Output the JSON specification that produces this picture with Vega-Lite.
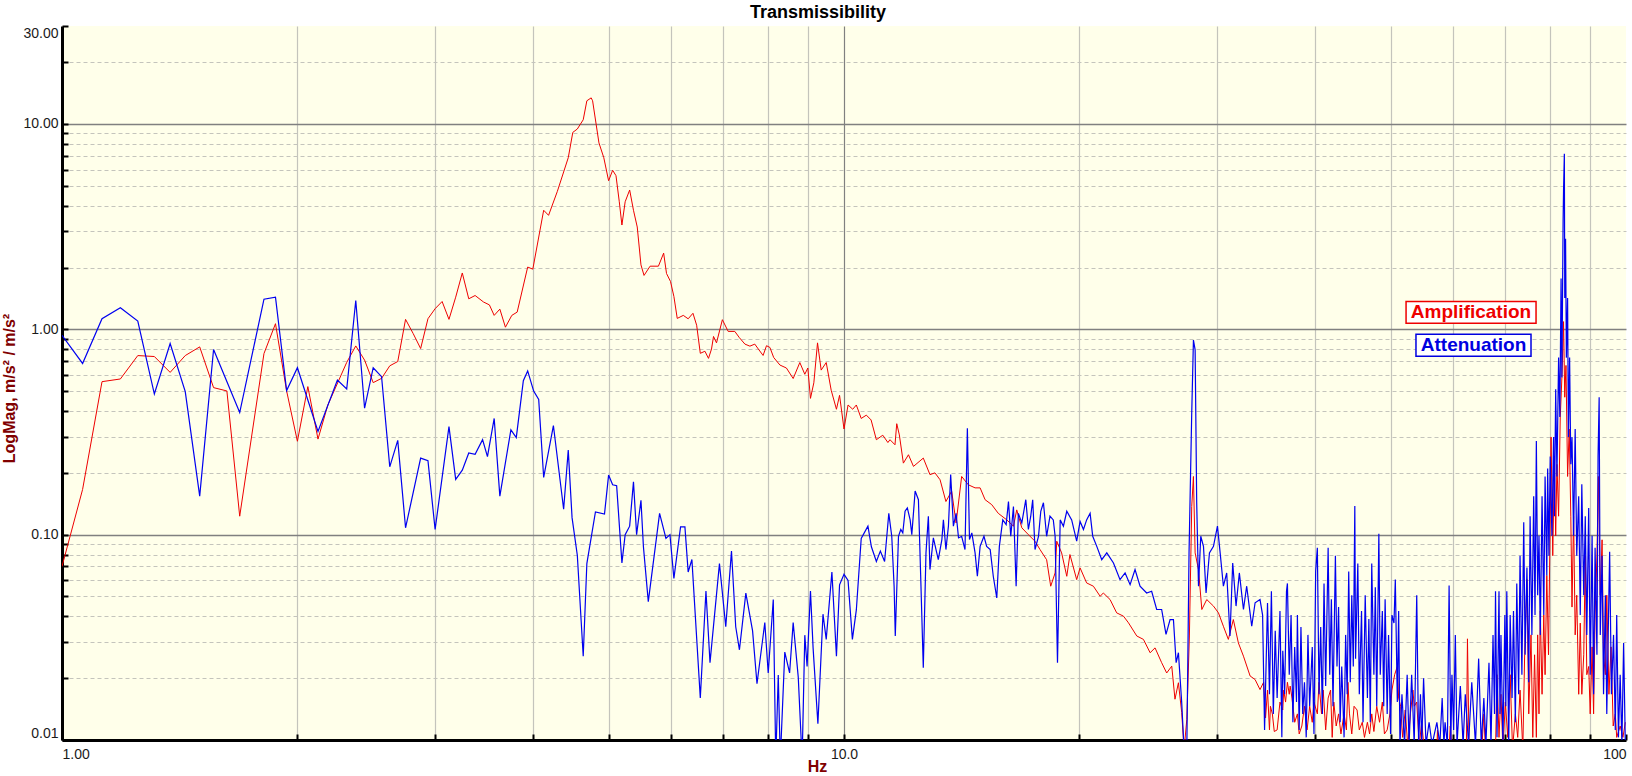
{
  "$schema": "https://vega.github.io/schema/vega-lite/v6.json",
  "width": 1564,
  "height": 714,
  "autosize": {"type": "none"},
  "padding": {"left": 62, "top": 26, "right": 6, "bottom": 36},
  "background": "white",
  "title": {
    "text": "Transmissibility",
    "frame": "group",
    "anchor": "middle",
    "dx": -26,
    "dy": 18,
    "offset": 7,
    "baseline": "alphabetic",
    "font": "Liberation Sans",
    "fontSize": 18,
    "fontWeight": "bold",
    "color": "black"
  },
  "datasets": {
    "amp": [
      {"hz":1.0,"mag":0.07},{"hz":1.0625,"mag":0.166},{"hz":1.125,"mag":0.556},{"hz":1.1875,"mag":0.573},{"hz":1.25,"mag":0.745},{"hz":1.3125,"mag":0.737},{"hz":1.375,"mag":0.617},{"hz":1.4375,"mag":0.745},{"hz":1.5,"mag":0.821},{"hz":1.5625,"mag":0.52},{"hz":1.625,"mag":0.501},{"hz":1.6875,"mag":0.123},{"hz":1.8125,"mag":0.762},{"hz":1.875,"mag":1.065},{"hz":1.9375,"mag":0.501},{"hz":2.0,"mag":0.285},{"hz":2.0625,"mag":0.526},{"hz":2.125,"mag":0.292},{"hz":2.1875,"mag":0.428},{"hz":2.3125,"mag":0.69},{"hz":2.375,"mag":0.83},{"hz":2.4375,"mag":0.708},{"hz":2.5,"mag":0.55},{"hz":2.5625,"mag":0.577},{"hz":2.625,"mag":0.664},{"hz":2.6875,"mag":0.697},{"hz":2.75,"mag":1.118},{"hz":2.8125,"mag":0.953},{"hz":2.875,"mag":0.806},{"hz":2.9375,"mag":1.126},{"hz":3.0,"mag":1.26},{"hz":3.0625,"mag":1.366},{"hz":3.125,"mag":1.118},{"hz":3.1875,"mag":1.434},{"hz":3.25,"mag":1.881},{"hz":3.3125,"mag":1.408},{"hz":3.375,"mag":1.461},
      {"hz":3.46,"mag":1.358},{"hz":3.52,"mag":1.315},{"hz":3.57,"mag":1.169},{"hz":3.63,"mag":1.254},{"hz":3.69,"mag":1.024},{"hz":3.76,"mag":1.169},{"hz":3.82,"mag":1.213},{"hz":3.94,"mag":2.01},{"hz":4.0,"mag":1.963},{"hz":4.13,"mag":3.8},{"hz":4.19,"mag":3.59},{"hz":4.3,"mag":4.7},{"hz":4.44,"mag":6.85},{"hz":4.5,"mag":9.1},{"hz":4.56,"mag":9.45},{"hz":4.64,"mag":10.48},{"hz":4.69,"mag":12.97},{"hz":4.75,"mag":13.4},{"hz":4.77,"mag":12.97},{"hz":4.86,"mag":8.09},{"hz":4.93,"mag":6.85},{"hz":5.0,"mag":5.29},{"hz":5.06,"mag":5.95},{"hz":5.11,"mag":5.6},{"hz":5.16,"mag":4.18},{"hz":5.2,"mag":3.22},{"hz":5.25,"mag":4.18},{"hz":5.32,"mag":4.77},{"hz":5.38,"mag":3.8},{"hz":5.44,"mag":3.15},{"hz":5.5,"mag":2.06},{"hz":5.55,"mag":1.83},{"hz":5.65,"mag":2.03},{"hz":5.79,"mag":2.03},{"hz":5.88,"mag":2.35},{"hz":5.93,"mag":1.87},{"hz":6.0,"mag":1.71},{"hz":6.06,"mag":1.445},{"hz":6.12,"mag":1.13},{"hz":6.23,"mag":1.169},{"hz":6.32,"mag":1.125},{"hz":6.41,"mag":1.197},{"hz":6.48,"mag":1.047},{"hz":6.55,"mag":0.764},{"hz":6.64,"mag":0.782},{"hz":6.71,"mag":0.722},{"hz":6.77,"mag":0.802},{"hz":6.81,"mag":0.923},{"hz":6.87,"mag":0.859},{"hz":6.99,"mag":1.114},{"hz":7.11,"mag":0.977},{"hz":7.25,"mag":0.977},{"hz":7.35,"mag":0.91},{"hz":7.47,"mag":0.847},{"hz":7.58,"mag":0.828},{"hz":7.69,"mag":0.847},{"hz":7.77,"mag":0.802},{"hz":7.88,"mag":0.746},{"hz":7.96,"mag":0.832},{"hz":8.04,"mag":0.816},{"hz":8.13,"mag":0.729},{"hz":8.28,"mag":0.67},{"hz":8.44,"mag":0.648},{"hz":8.61,"mag":0.576},{"hz":8.78,"mag":0.689},{"hz":8.91,"mag":0.604},{"hz":8.99,"mag":0.648},{"hz":9.06,"mag":0.461},{"hz":9.15,"mag":0.549},{"hz":9.25,"mag":0.859},{"hz":9.35,"mag":0.633},{"hz":9.49,"mag":0.689},{"hz":9.63,"mag":0.505},{"hz":9.78,"mag":0.408},{"hz":9.87,"mag":0.477},{"hz":10.0,"mag":0.327},{"hz":10.12,"mag":0.428},{"hz":10.26,"mag":0.408},{"hz":10.37,"mag":0.428},{"hz":10.52,"mag":0.368},{"hz":10.68,"mag":0.382},{"hz":10.83,"mag":0.362},{"hz":11.0,"mag":0.29},{"hz":11.21,"mag":0.305},{"hz":11.38,"mag":0.281},
      {"hz":11.45,"mag":0.29},{"hz":11.62,"mag":0.274},{"hz":11.68,"mag":0.347},{"hz":11.77,"mag":0.306},{"hz":11.91,"mag":0.223},{"hz":12.09,"mag":0.245},{"hz":12.27,"mag":0.215},{"hz":12.63,"mag":0.236},{"hz":12.88,"mag":0.196},{"hz":13.07,"mag":0.2},{"hz":13.27,"mag":0.185},{"hz":13.5,"mag":0.145},{"hz":13.73,"mag":0.163},{"hz":13.91,"mag":0.114},{"hz":14.14,"mag":0.192},{"hz":14.42,"mag":0.175},{"hz":14.71,"mag":0.169},{"hz":14.93,"mag":0.169},{"hz":15.15,"mag":0.148},{"hz":15.45,"mag":0.14},{"hz":15.75,"mag":0.127},{"hz":16.15,"mag":0.118},{"hz":16.47,"mag":0.11},{"hz":16.63,"mag":0.132},{"hz":16.88,"mag":0.108},{"hz":17.21,"mag":0.1},{"hz":17.55,"mag":0.0929},{"hz":17.81,"mag":0.0846},{"hz":18.16,"mag":0.0755},{"hz":18.38,"mag":0.0561},{"hz":18.62,"mag":0.0651},{"hz":18.71,"mag":0.0929},{"hz":18.98,"mag":0.0815},{"hz":19.27,"mag":0.0627},{"hz":19.45,"mag":0.08},{"hz":19.84,"mag":0.0604},{"hz":20.04,"mag":0.0689},{"hz":20.43,"mag":0.0582},{"hz":20.84,"mag":0.0561},{"hz":21.26,"mag":0.0501},{"hz":21.46,"mag":0.052},{"hz":21.89,"mag":0.0483},{"hz":22.32,"mag":0.0416},{"hz":22.77,"mag":0.0401},{"hz":23.11,"mag":0.0372},{"hz":23.68,"mag":0.0321},{"hz":24.15,"mag":0.0309},{"hz":24.63,"mag":0.0266},{"hz":24.99,"mag":0.0281},{"hz":25.48,"mag":0.0238},{"hz":25.86,"mag":0.0212},{"hz":26.25,"mag":0.0229},{"hz":26.5,"mag":0.0158},{"hz":26.77,"mag":0.019},{"hz":27.03,"mag":0.0136},{"hz":27.22,"mag":0.009},{"hz":27.44,"mag":0.0126},{"hz":27.65,"mag":0.0321},{"hz":27.84,"mag":0.137},{"hz":27.98,"mag":0.192},{"hz":28.12,"mag":0.0815},{"hz":28.4,"mag":0.0676},{"hz":28.68,"mag":0.0432},{"hz":29.1,"mag":0.0483},{"hz":29.68,"mag":0.0449},{"hz":30.12,"mag":0.0416},{"hz":30.56,"mag":0.0358},{"hz":31.01,"mag":0.0309},{"hz":31.47,"mag":0.0386},{"hz":31.94,"mag":0.0297},{"hz":32.42,"mag":0.0256},{"hz":33.06,"mag":0.0205},{"hz":33.55,"mag":0.0197},{"hz":34.04,"mag":0.0176},
      {"hz":34.4,"mag":0.0191},{"hz":34.6,"mag":0.0128},{"hz":34.8,"mag":0.0175},{"hz":35.0,"mag":0.0112},{"hz":35.1,"mag":0.0146},{"hz":35.3,"mag":0.0134},{"hz":35.5,"mag":0.011},{"hz":35.8,"mag":0.0112},{"hz":36.1,"mag":0.0153},{"hz":36.4,"mag":0.014},{"hz":36.5,"mag":0.0175},{"hz":36.7,"mag":0.0153},{"hz":36.9,"mag":0.0191},{"hz":37.1,"mag":0.0167},{"hz":37.2,"mag":0.0183},{"hz":37.4,"mag":0.016},{"hz":37.7,"mag":0.0122},{"hz":38.0,"mag":0.0134},{"hz":38.2,"mag":0.0107},{"hz":38.5,"mag":0.0117},{"hz":38.8,"mag":0.0146},{"hz":39.1,"mag":0.0112},{"hz":39.4,"mag":0.0146},{"hz":39.7,"mag":0.0122},{"hz":39.9,"mag":0.0153},{"hz":40.3,"mag":0.0134},{"hz":40.5,"mag":0.0191},{"hz":40.8,"mag":0.0134},{"hz":41.0,"mag":0.0175},{"hz":41.3,"mag":0.0112},{"hz":41.6,"mag":0.016},{"hz":41.9,"mag":0.0175},{"hz":42.1,"mag":0.0103},{"hz":42.3,"mag":0.0153},{"hz":42.6,"mag":0.0117},{"hz":42.9,"mag":0.0134},{"hz":43.2,"mag":0.0107},{"hz":43.6,"mag":0.0134},{"hz":43.9,"mag":0.0112},{"hz":44.1,"mag":0.0191},{"hz":44.3,"mag":0.0134},{"hz":44.6,"mag":0.0107},{"hz":44.9,"mag":0.0146},{"hz":45.3,"mag":0.014},{"hz":45.6,"mag":0.0112},{"hz":46.0,"mag":0.0122},{"hz":46.3,"mag":0.0103},{"hz":46.7,"mag":0.0122},{"hz":47.0,"mag":0.0107},{"hz":47.3,"mag":0.0134},{"hz":47.6,"mag":0.011},{"hz":48.0,"mag":0.0146},{"hz":48.4,"mag":0.0122},{"hz":48.8,"mag":0.0153},{"hz":49.1,"mag":0.0107},{"hz":49.5,"mag":0.0112},{"hz":49.9,"mag":0.0134},{"hz":50.2,"mag":0.0175},{"hz":50.6,"mag":0.0208},{"hz":51.0,"mag":0.0228},{"hz":51.2,"mag":0.016},{"hz":51.5,"mag":0.0146},{"hz":51.8,"mag":0.0103},{"hz":52.2,"mag":0.014},{"hz":52.6,"mag":0.0093},{"hz":53.0,"mag":0.0134},{"hz":53.4,"mag":0.0175},{"hz":53.6,"mag":0.0146},{"hz":54.0,"mag":0.0153},{"hz":54.4,"mag":0.0094},{"hz":54.8,"mag":0.0122},{"hz":55.2,"mag":0.009},{"hz":57.3,"mag":0.009},{"hz":57.4,"mag":0.0112},{"hz":57.6,"mag":0.009},{"hz":59.4,"mag":0.009},{"hz":59.6,"mag":0.0117},{"hz":59.9,"mag":0.009},{"hz":62.5,"mag":0.009},{"hz":62.7,"mag":0.0311},{"hz":63.0,"mag":0.009},{"hz":65.4,"mag":0.009},{"hz":65.8,"mag":0.0134},{"hz":66.1,"mag":0.009},{"hz":68.1,"mag":0.009},{"hz":68.4,"mag":0.0208},{"hz":68.8,"mag":0.0103},{"hz":69.2,"mag":0.0167},{"hz":69.6,"mag":0.009},{"hz":70.1,"mag":0.0153},{"hz":70.6,"mag":0.0103},{"hz":71.1,"mag":0.0208},{"hz":71.6,"mag":0.009},{"hz":72.2,"mag":0.0134},{"hz":72.7,"mag":0.0103},{"hz":73.2,"mag":0.0175},{"hz":73.8,"mag":0.009},{"hz":74.2,"mag":0.026},{"hz":74.7,"mag":0.0605},{"hz":75.1,"mag":0.0134},{"hz":75.6,"mag":0.0325},{"hz":76.0,"mag":0.0103},{"hz":76.4,"mag":0.026},{"hz":76.8,"mag":0.0103},{"hz":77.1,"mag":0.0325},{"hz":77.4,"mag":0.0134},{"hz":77.7,"mag":0.0425},{"hz":78.1,"mag":0.0167},{"hz":78.5,"mag":0.0406},{"hz":78.8,"mag":0.0208},{"hz":79.2,"mag":0.0633},{"hz":79.6,"mag":0.026},{"hz":80.0,"mag":0.123},{"hz":80.2,"mag":0.299},{"hz":80.6,"mag":0.079},{"hz":81.0,"mag":0.229},{"hz":81.3,"mag":0.0987},{"hz":81.6,"mag":0.22},{"hz":82.0,"mag":0.123},{"hz":82.4,"mag":0.374},{"hz":82.8,"mag":0.583},{"hz":83.2,"mag":1.09},{"hz":83.5,"mag":0.467},{"hz":83.8,"mag":0.667},{"hz":84.2,"mag":0.192},{"hz":84.6,"mag":0.327},{"hz":85.0,"mag":0.123},{"hz":85.3,"mag":0.0444},{"hz":85.7,"mag":0.123},{"hz":86.1,"mag":0.0325},{"hz":86.5,"mag":0.0507},{"hz":87.0,"mag":0.0167},{"hz":87.4,"mag":0.0371},{"hz":87.8,"mag":0.0167},{"hz":88.3,"mag":0.026},{"hz":88.7,"mag":0.079},{"hz":89.1,"mag":0.0208},{"hz":89.6,"mag":0.0228},{"hz":90.0,"mag":0.0134},{"hz":90.5,"mag":0.0284},{"hz":90.9,"mag":0.0134},{"hz":91.3,"mag":0.0406},{"hz":91.8,"mag":0.079},{"hz":92.2,"mag":0.192},{"hz":92.7,"mag":0.0507},{"hz":93.2,"mag":0.0944},{"hz":93.6,"mag":0.026},{"hz":94.1,"mag":0.0208},{"hz":94.5,"mag":0.0507},{"hz":95.1,"mag":0.0167},{"hz":95.7,"mag":0.0284},{"hz":96.3,"mag":0.0117},{"hz":96.9,"mag":0.0134},{"hz":97.3,"mag":0.0103},{"hz":98.3,"mag":0.0117},{"hz":99.1,"mag":0.0103},{"hz":99.8,"mag":0.0122}
    ],
    "att": [
      {"hz":1.0,"mag":0.935},{"hz":1.0625,"mag":0.682},{"hz":1.125,"mag":1.126},{"hz":1.1875,"mag":1.274},{"hz":1.25,"mag":1.097},{"hz":1.3125,"mag":0.484},{"hz":1.375,"mag":0.852},{"hz":1.4375,"mag":0.497},{"hz":1.5,"mag":0.154},{"hz":1.5625,"mag":0.797},{"hz":1.6875,"mag":0.393},{"hz":1.8125,"mag":1.402},{"hz":1.875,"mag":1.434},{"hz":1.9375,"mag":0.503},{"hz":2.0,"mag":0.65},{"hz":2.125,"mag":0.318},{"hz":2.25,"mag":0.566},{"hz":2.3125,"mag":0.512},{"hz":2.375,"mag":1.382},{"hz":2.4375,"mag":0.413},{"hz":2.5,"mag":0.65},{"hz":2.5625,"mag":0.588},{"hz":2.625,"mag":0.214},{"hz":2.6875,"mag":0.288},{"hz":2.75,"mag":0.108},{"hz":2.875,"mag":0.236},{"hz":2.9375,"mag":0.229},{"hz":3.0,"mag":0.106},{"hz":3.125,"mag":0.336},{"hz":3.1875,"mag":0.186},{"hz":3.25,"mag":0.206},{"hz":3.3125,"mag":0.25},{"hz":3.375,"mag":0.246},
      {"hz":3.45,"mag":0.29},{"hz":3.5,"mag":0.24},{"hz":3.57,"mag":0.368},{"hz":3.63,"mag":0.154},{"hz":3.75,"mag":0.324},{"hz":3.81,"mag":0.297},{"hz":3.89,"mag":0.562},{"hz":3.94,"mag":0.627},{"hz":4.01,"mag":0.5},{"hz":4.07,"mag":0.455},{"hz":4.13,"mag":0.19},{"hz":4.25,"mag":0.34},{"hz":4.38,"mag":0.133},{"hz":4.44,"mag":0.258},{"hz":4.49,"mag":0.121},{"hz":4.56,"mag":0.0794},{"hz":4.64,"mag":0.0256},{"hz":4.69,"mag":0.0723},{"hz":4.81,"mag":0.129},{"hz":4.94,"mag":0.126},{"hz":5.0,"mag":0.195},{"hz":5.06,"mag":0.175},{"hz":5.12,"mag":0.173},{"hz":5.2,"mag":0.0729},{"hz":5.25,"mag":0.1},{"hz":5.32,"mag":0.11},{"hz":5.38,"mag":0.181},{"hz":5.43,"mag":0.1},{"hz":5.5,"mag":0.147},{"hz":5.54,"mag":0.0873},{"hz":5.62,"mag":0.0472},{"hz":5.81,"mag":0.127},{"hz":5.92,"mag":0.0959},{"hz":5.99,"mag":0.1},{"hz":6.06,"mag":0.0612},{"hz":6.18,"mag":0.109},{"hz":6.26,"mag":0.109},{"hz":6.32,"mag":0.0658},{"hz":6.39,"mag":0.0757},{"hz":6.55,"mag":0.016},{"hz":6.66,"mag":0.0531},{"hz":6.74,"mag":0.0238},{"hz":6.93,"mag":0.0723},{"hz":7.06,"mag":0.0356},{"hz":7.18,"mag":0.0832},{"hz":7.27,"mag":0.0356},{"hz":7.35,"mag":0.0275},{"hz":7.49,"mag":0.0519},{"hz":7.64,"mag":0.034},{"hz":7.74,"mag":0.0188},{"hz":7.92,"mag":0.0373},{"hz":8.0,"mag":0.0212},{"hz":8.12,"mag":0.0483},{"hz":8.18,"mag":0.008},{"hz":8.24,"mag":0.0207},{"hz":8.29,"mag":0.008},{"hz":8.4,"mag":0.0268},{"hz":8.52,"mag":0.0212},{"hz":8.61,"mag":0.0373},{"hz":8.74,"mag":0.0202},{"hz":8.84,"mag":0.008},{"hz":8.91,"mag":0.0324},{"hz":8.97,"mag":0.0228},{"hz":9.06,"mag":0.0531},{"hz":9.13,"mag":0.0281},{"hz":9.26,"mag":0.012},{"hz":9.4,"mag":0.041},{"hz":9.49,"mag":0.0309},{"hz":9.65,"mag":0.0658},{"hz":9.78,"mag":0.0256},{"hz":9.87,"mag":0.057},{"hz":10.0,"mag":0.0641},{"hz":10.12,"mag":0.0598},{"hz":10.25,"mag":0.0309},{"hz":10.37,"mag":0.043},{"hz":10.52,"mag":0.0959},{"hz":10.73,"mag":0.11},{"hz":10.84,"mag":0.0873},{"hz":11.0,"mag":0.074},{"hz":11.13,"mag":0.0832},{"hz":11.27,"mag":0.074},{"hz":11.41,"mag":0.127},
      {"hz":11.51,"mag":0.0982},{"hz":11.59,"mag":0.0561},{"hz":11.63,"mag":0.0321},{"hz":11.74,"mag":0.0982},{"hz":11.82,"mag":0.106},{"hz":11.89,"mag":0.102},{"hz":11.97,"mag":0.13},{"hz":12.05,"mag":0.135},{"hz":12.15,"mag":0.118},{"hz":12.21,"mag":0.1},{"hz":12.33,"mag":0.163},{"hz":12.45,"mag":0.148},{"hz":12.53,"mag":0.0651},{"hz":12.63,"mag":0.0225},{"hz":12.73,"mag":0.0815},{"hz":12.82,"mag":0.123},{"hz":12.88,"mag":0.0676},{"hz":13.01,"mag":0.0964},{"hz":13.14,"mag":0.0815},{"hz":13.2,"mag":0.0755},{"hz":13.34,"mag":0.0946},{"hz":13.4,"mag":0.118},{"hz":13.5,"mag":0.0846},{"hz":13.6,"mag":0.11},{"hz":13.69,"mag":0.196},{"hz":13.8,"mag":0.11},{"hz":13.91,"mag":0.127},{"hz":14.01,"mag":0.0964},{"hz":14.14,"mag":0.0982},{"hz":14.28,"mag":0.0846},{"hz":14.38,"mag":0.33},{"hz":14.47,"mag":0.0946},{"hz":14.57,"mag":0.102},{"hz":14.71,"mag":0.0815},{"hz":14.81,"mag":0.0627},{"hz":14.93,"mag":0.0877},{"hz":15.1,"mag":0.0982},{"hz":15.22,"mag":0.0877},{"hz":15.38,"mag":0.0846},{"hz":15.52,"mag":0.0627},{"hz":15.68,"mag":0.0492},{"hz":15.8,"mag":0.0877},{"hz":15.96,"mag":0.118},{"hz":16.12,"mag":0.112},{"hz":16.23,"mag":0.145},{"hz":16.34,"mag":0.0982},{"hz":16.47,"mag":0.137},{"hz":16.6,"mag":0.0561},{"hz":16.71,"mag":0.127},{"hz":16.88,"mag":0.114},{"hz":17.08,"mag":0.148},{"hz":17.21,"mag":0.106},{"hz":17.33,"mag":0.123},{"hz":17.43,"mag":0.148},{"hz":17.55,"mag":0.0846},{"hz":17.73,"mag":0.0982},{"hz":17.85,"mag":0.13},{"hz":17.99,"mag":0.143},{"hz":18.16,"mag":0.0982},{"hz":18.34,"mag":0.123},{"hz":18.52,"mag":0.118},{"hz":18.62,"mag":0.0982},{"hz":18.75,"mag":0.0238},{"hz":18.9,"mag":0.118},{"hz":19.08,"mag":0.11},{"hz":19.27,"mag":0.13},{"hz":19.55,"mag":0.118},{"hz":19.84,"mag":0.0929},{"hz":20.04,"mag":0.116},{"hz":20.24,"mag":0.106},{"hz":20.43,"mag":0.118},{"hz":20.64,"mag":0.127},{"hz":20.8,"mag":0.0982},{"hz":21.05,"mag":0.0877},{"hz":21.36,"mag":0.0755},{"hz":21.68,"mag":0.0815},{"hz":22.11,"mag":0.0728},{"hz":22.54,"mag":0.0604},{"hz":22.88,"mag":0.0651},{"hz":23.22,"mag":0.0571},{"hz":23.56,"mag":0.0676},{"hz":23.91,"mag":0.0561},{"hz":24.38,"mag":0.052},{"hz":24.74,"mag":0.053},{"hz":25.11,"mag":0.0432},{"hz":25.48,"mag":0.0432},{"hz":25.81,"mag":0.0327},{"hz":26.12,"mag":0.0386},{"hz":26.38,"mag":0.0386},{"hz":26.59,"mag":0.0238},{"hz":26.77,"mag":0.0266},{"hz":27.03,"mag":0.0152},{"hz":27.22,"mag":0.009},{"hz":27.44,"mag":0.009},{"hz":27.62,"mag":0.0815},{"hz":27.84,"mag":0.391},{"hz":27.98,"mag":0.887},{"hz":28.12,"mag":0.794},{"hz":28.25,"mag":0.143},{"hz":28.4,"mag":0.0561},{"hz":28.59,"mag":0.0982},{"hz":28.82,"mag":0.0877},{"hz":29.04,"mag":0.052},{"hz":29.33,"mag":0.0815},{"hz":29.68,"mag":0.0877},{"hz":30.03,"mag":0.11},{"hz":30.27,"mag":0.0815},{"hz":30.56,"mag":0.0561},{"hz":30.86,"mag":0.0651},{"hz":31.16,"mag":0.0321},{"hz":31.41,"mag":0.0728},{"hz":31.72,"mag":0.0449},{"hz":32.03,"mag":0.0651},{"hz":32.42,"mag":0.0432},{"hz":32.73,"mag":0.0561},{"hz":33.22,"mag":0.0358},{"hz":33.55,"mag":0.0466},{"hz":34.04,"mag":0.0483},
      {"hz":34.3,"mag":0.0406},{"hz":34.5,"mag":0.0112},{"hz":34.8,"mag":0.0464},{"hz":35.0,"mag":0.0167},{"hz":35.2,"mag":0.053},{"hz":35.4,"mag":0.0134},{"hz":35.6,"mag":0.034},{"hz":35.8,"mag":0.016},{"hz":36.1,"mag":0.0425},{"hz":36.3,"mag":0.0103},{"hz":36.4,"mag":0.0272},{"hz":36.6,"mag":0.0167},{"hz":36.8,"mag":0.053},{"hz":36.9,"mag":0.0579},{"hz":37.1,"mag":0.0208},{"hz":37.3,"mag":0.0406},{"hz":37.5,"mag":0.0122},{"hz":37.7,"mag":0.0284},{"hz":37.9,"mag":0.0153},{"hz":38.0,"mag":0.0406},{"hz":38.2,"mag":0.0112},{"hz":38.4,"mag":0.0355},{"hz":38.6,"mag":0.0134},{"hz":38.8,"mag":0.0191},{"hz":39.0,"mag":0.0103},{"hz":39.2,"mag":0.0325},{"hz":39.4,"mag":0.0146},{"hz":39.7,"mag":0.0284},{"hz":39.9,"mag":0.0107},{"hz":40.1,"mag":0.0662},{"hz":40.3,"mag":0.0863},{"hz":40.5,"mag":0.0167},{"hz":40.7,"mag":0.0355},{"hz":40.9,"mag":0.0134},{"hz":41.1,"mag":0.0579},{"hz":41.3,"mag":0.0183},{"hz":41.6,"mag":0.0863},{"hz":41.8,"mag":0.0208},{"hz":42.0,"mag":0.0485},{"hz":42.2,"mag":0.0146},{"hz":42.5,"mag":0.079},{"hz":42.7,"mag":0.0228},{"hz":42.9,"mag":0.0444},{"hz":43.1,"mag":0.0122},{"hz":43.3,"mag":0.0228},{"hz":43.6,"mag":0.0103},{"hz":43.8,"mag":0.0325},{"hz":44.0,"mag":0.0167},{"hz":44.2,"mag":0.0662},{"hz":44.4,"mag":0.0191},{"hz":44.6,"mag":0.0507},{"hz":44.8,"mag":0.0228},{"hz":45.0,"mag":0.138},{"hz":45.1,"mag":0.0249},{"hz":45.4,"mag":0.0723},{"hz":45.6,"mag":0.0167},{"hz":45.9,"mag":0.0425},{"hz":46.1,"mag":0.0122},{"hz":46.4,"mag":0.0507},{"hz":46.7,"mag":0.016},{"hz":46.9,"mag":0.0388},{"hz":47.1,"mag":0.0122},{"hz":47.3,"mag":0.0723},{"hz":47.6,"mag":0.0208},{"hz":47.8,"mag":0.0554},{"hz":48.0,"mag":0.0146},{"hz":48.3,"mag":0.101},{"hz":48.5,"mag":0.0208},{"hz":48.8,"mag":0.0425},{"hz":49.0,"mag":0.0146},{"hz":49.2,"mag":0.0485},{"hz":49.5,"mag":0.0134},{"hz":49.7,"mag":0.0325},{"hz":50.0,"mag":0.0107},{"hz":50.2,"mag":0.0406},{"hz":50.5,"mag":0.0371},{"hz":50.7,"mag":0.0605},{"hz":51.0,"mag":0.0153},{"hz":51.2,"mag":0.0425},{"hz":51.4,"mag":0.0095},{"hz":51.7,"mag":0.0167},{"hz":52.1,"mag":0.0095},{"hz":52.5,"mag":0.0208},{"hz":52.8,"mag":0.0095},{"hz":53.2,"mag":0.0208},{"hz":53.6,"mag":0.0095},{"hz":54.0,"mag":0.0507},{"hz":54.3,"mag":0.0095},{"hz":54.6,"mag":0.0167},{"hz":54.8,"mag":0.0095},{"hz":55.1,"mag":0.02},{"hz":55.5,"mag":0.0095},{"hz":56.0,"mag":0.0122},{"hz":56.5,"mag":0.0095},{"hz":57.3,"mag":0.0122},{"hz":57.8,"mag":0.0095},{"hz":58.2,"mag":0.016},{"hz":58.5,"mag":0.0095},{"hz":58.7,"mag":0.0122},{"hz":59.1,"mag":0.0095},{"hz":59.4,"mag":0.0566},{"hz":59.7,"mag":0.0095},{"hz":59.9,"mag":0.0208},{"hz":60.2,"mag":0.0112},{"hz":60.5,"mag":0.0325},{"hz":60.8,"mag":0.0095},{"hz":61.4,"mag":0.0183},{"hz":61.9,"mag":0.0095},{"hz":62.3,"mag":0.0167},{"hz":62.9,"mag":0.0095},{"hz":63.5,"mag":0.0191},{"hz":64.2,"mag":0.0095},{"hz":64.8,"mag":0.0249},{"hz":65.3,"mag":0.0095},{"hz":65.8,"mag":0.016},{"hz":66.2,"mag":0.0095},{"hz":66.8,"mag":0.0238},{"hz":67.2,"mag":0.0095},{"hz":67.6,"mag":0.0325},{"hz":67.9,"mag":0.0134},{"hz":68.1,"mag":0.053},{"hz":68.4,"mag":0.0103},{"hz":68.8,"mag":0.053},{"hz":69.0,"mag":0.0134},{"hz":69.2,"mag":0.0325},{"hz":69.6,"mag":0.0095},{"hz":70.0,"mag":0.0406},{"hz":70.2,"mag":0.0146},{"hz":70.4,"mag":0.053},{"hz":70.8,"mag":0.0095},{"hz":71.1,"mag":0.0406},{"hz":71.5,"mag":0.016},{"hz":71.8,"mag":0.0425},{"hz":72.2,"mag":0.0122},{"hz":72.5,"mag":0.0579},{"hz":72.9,"mag":0.0167},{"hz":73.2,"mag":0.079},{"hz":73.6,"mag":0.0208},{"hz":74.0,"mag":0.115},{"hz":74.3,"mag":0.026},{"hz":74.7,"mag":0.0692},{"hz":75.1,"mag":0.0191},{"hz":75.4,"mag":0.123},{"hz":75.8,"mag":0.0325},{"hz":76.2,"mag":0.154},{"hz":76.5,"mag":0.0406},{"hz":76.8,"mag":0.286},{"hz":77.1,"mag":0.0507},{"hz":77.4,"mag":0.0987},{"hz":77.7,"mag":0.0325},{"hz":78.1,"mag":0.154},{"hz":78.5,"mag":0.0406},{"hz":78.8,"mag":0.192},{"hz":79.2,"mag":0.0633},{"hz":79.4,"mag":0.21},{"hz":79.7,"mag":0.079},{"hz":80.0,"mag":0.24},{"hz":80.4,"mag":0.0987},{"hz":80.8,"mag":0.299},{"hz":81.0,"mag":0.123},{"hz":81.3,"mag":0.511},{"hz":81.6,"mag":0.192},{"hz":82.0,"mag":0.728},{"hz":82.3,"mag":0.374},{"hz":82.6,"mag":1.77},{"hz":82.8,"mag":0.583},{"hz":83.1,"mag":3.44},{"hz":83.2,"mag":4.7},{"hz":83.4,"mag":7.17},{"hz":83.5,"mag":1.42},{"hz":83.7,"mag":2.76},{"hz":83.9,"mag":0.728},{"hz":84.2,"mag":1.42},{"hz":84.4,"mag":0.299},{"hz":84.7,"mag":0.728},{"hz":85.0,"mag":0.22},{"hz":85.3,"mag":0.299},{"hz":85.7,"mag":0.0987},{"hz":86.1,"mag":0.327},{"hz":86.5,"mag":0.079},{"hz":87.0,"mag":0.154},{"hz":87.4,"mag":0.0406},{"hz":87.8,"mag":0.176},{"hz":88.3,"mag":0.0507},{"hz":88.7,"mag":0.123},{"hz":89.1,"mag":0.0325},{"hz":89.6,"mag":0.135},{"hz":90.0,"mag":0.0208},{"hz":90.5,"mag":0.0987},{"hz":90.9,"mag":0.0167},{"hz":91.3,"mag":0.0863},{"hz":91.8,"mag":0.026},{"hz":92.1,"mag":0.24},{"hz":92.4,"mag":0.467},{"hz":92.7,"mag":0.0325},{"hz":93.2,"mag":0.079},{"hz":93.6,"mag":0.0167},{"hz":94.1,"mag":0.0507},{"hz":94.5,"mag":0.0134},{"hz":95.3,"mag":0.0826},{"hz":95.8,"mag":0.0167},{"hz":96.4,"mag":0.0325},{"hz":96.9,"mag":0.0112},{"hz":97.3,"mag":0.0406},{"hz":97.8,"mag":0.0103},{"hz":98.3,"mag":0.0208},{"hz":98.8,"mag":0.0095},{"hz":99.3,"mag":0.0297},{"hz":99.8,"mag":0.0095}
    ]
  },
  "layer": [
    {
      "data": {"name": "amp"},
      "mark": {"type": "line", "color": "#EE0000", "strokeWidth": 1, "clip": true},
      "encoding": {
        "x": {
          "field": "hz",
          "type": "quantitative",
          "scale": {"type": "log", "domain": [1, 100], "nice": false, "zero": false},
          "axis": {
            "title": "Hz",
            "titleColor": "#800000",
            "titleFont": "Liberation Sans",
            "titleFontSize": 16,
            "titleFontWeight": "bold",
            "titleX": 755,
            "titleY": 31,
            "titleAlign": "center",
            "titleBaseline": "alphabetic",
            "values": [1, 2, 3, 4, 5, 6, 7, 8, 9, 10, 20, 30, 40, 50, 60, 70, 80, 90, 100],
            "labelExpr": "datum.value == 1 ? '1.00' : datum.value == 10 ? '10.0' : datum.value == 100 ? '100' : ''",
            "labelFlush": true,
            "labelOverlap": false,
            "labelFont": "Liberation Sans",
            "labelFontSize": 14,
            "labelColor": "#1a1a1a",
            "labelPadding": 13,
            "domainColor": "black",
            "domainWidth": 3,
            "tickColor": "black",
            "tickSize": -6,
            "tickWidth": 2,
            "grid": true,
            "gridColor": {"condition": {"test": "datum.value == 10", "value": "#808080"}, "value": "#c4c4bc"},
            "gridWidth": 1.2,
            "gridOpacity": {"condition": {"test": "datum.value <= 1 || datum.value >= 100", "value": 0}, "value": 1}
          }
        },
        "y": {
          "field": "mag",
          "type": "quantitative",
          "scale": {"type": "log", "domain": [0.01, 30], "nice": false, "zero": false},
          "axis": {
            "title": "LogMag, m/s² / m/s²",
            "titleColor": "#800000",
            "titleFont": "Liberation Sans",
            "titleFontSize": 16,
            "titleFontWeight": "bold",
            "titleX": -53,
            "titleY": 362,
            "titleAlign": "center",
            "titleBaseline": "middle",
            "values": [0.01, 0.02, 0.03, 0.04, 0.05, 0.06, 0.07, 0.08, 0.09, 0.1, 0.2, 0.3, 0.4, 0.5, 0.6, 0.7, 0.8, 0.9, 1, 2, 3, 4, 5, 6, 7, 8, 9, 10, 20, 30],
            "labelExpr": "datum.value == 30 ? '30.00' : datum.value == 10 ? '10.00' : datum.value == 1 ? '1.00' : datum.value == 0.1 ? '0.10' : datum.value == 0.01 ? '0.01' : ''",
            "labelFlush": true,
            "labelOverlap": false,
            "labelFont": "Liberation Sans",
            "labelFontSize": 14,
            "labelColor": "#1a1a1a",
            "labelPadding": 10,
            "domainColor": "black",
            "domainWidth": 3,
            "tickColor": "black",
            "tickSize": -6,
            "tickWidth": 2,
            "grid": true,
            "gridColor": {"condition": {"test": "datum.value == 0.1 || datum.value == 1 || datum.value == 10", "value": "#808080"}, "value": "#c4c4bc"},
            "gridDash": {"condition": {"test": "datum.value == 0.1 || datum.value == 1 || datum.value == 10", "value": []}, "value": [4, 3]},
            "gridWidth": {"condition": {"test": "datum.value == 0.1 || datum.value == 1 || datum.value == 10", "value": 1.5}, "value": 1},
            "gridOpacity": {"condition": {"test": "datum.value <= 0.01 || datum.value >= 30", "value": 0}, "value": 1}
          }
        }
      }
    },
    {
      "data": {"name": "att"},
      "mark": {"type": "line", "color": "#0000F0", "strokeWidth": 1.2, "clip": true},
      "encoding": {
        "x": {"field": "hz", "type": "quantitative"},
        "y": {"field": "mag", "type": "quantitative"}
      }
    },
    {
      "data": {"values": [{"label": "Amplification"}]},
      "layer": [
        {
          "mark": {"type": "rect", "fill": "white", "stroke": "#EE0000", "strokeWidth": 1.5},
          "encoding": {
            "x": {"datum": 52.33, "type": "quantitative"},
            "x2": {"datum": 76.73},
            "y": {"datum": 1.366, "type": "quantitative"},
            "y2": {"datum": 1.069}
          }
        },
        {
          "mark": {"type": "text", "color": "#EE0000", "font": "Liberation Sans", "fontSize": 19, "fontWeight": "bold", "align": "center", "baseline": "middle"},
          "encoding": {
            "x": {"datum": 63.36, "type": "quantitative"},
            "y": {"datum": 1.209, "type": "quantitative"},
            "text": {"field": "label"}
          }
        }
      ]
    },
    {
      "data": {"values": [{"label": "Attenuation"}]},
      "layer": [
        {
          "mark": {"type": "rect", "fill": "white", "stroke": "#0000E0", "strokeWidth": 1.5},
          "encoding": {
            "x": {"datum": 53.88, "type": "quantitative"},
            "x2": {"datum": 75.6},
            "y": {"datum": 0.946, "type": "quantitative"},
            "y2": {"datum": 0.74}
          }
        },
        {
          "mark": {"type": "text", "color": "#0000E0", "font": "Liberation Sans", "fontSize": 19, "fontWeight": "bold", "align": "center", "baseline": "middle"},
          "encoding": {
            "x": {"datum": 63.83, "type": "quantitative"},
            "y": {"datum": 0.837, "type": "quantitative"},
            "text": {"field": "label"}
          }
        }
      ]
    }
  ],
  "config": {
    "view": {"stroke": null, "fill": "#FFFFEA"}
  }
}
